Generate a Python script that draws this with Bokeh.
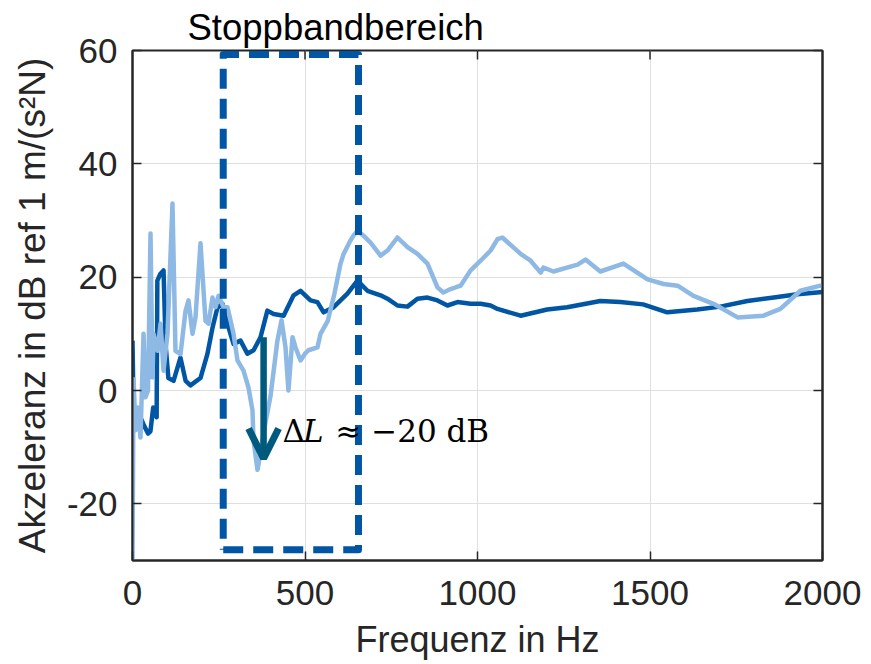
from bokeh.plotting import figure
from bokeh.models import (LinearAxis, FixedTicker, Label, Arrow, OpenHead,
                          CustomJSTickFormatter, Range1d)
from bokeh.embed import file_html
from bokeh.resources import INLINE

# ---------------- data ----------------
freq_dark = [0, 3, 15, 25, 32, 45, 52, 60, 70, 72, 80, 90, 96, 104, 119, 139, 154,
             168, 197, 217, 232, 246, 261, 275, 293, 313, 333, 351, 371, 391, 409,
             438, 467, 487, 516, 536, 554, 583, 623, 652, 681, 719, 739, 768, 797,
             826, 855, 884, 913, 942, 980, 1009, 1038, 1058, 1125, 1202, 1260, 1356,
             1414, 1480, 1550, 1637, 1704, 1782, 1859, 1927, 2000]
level_dark = [8.8, -3, -6, -5, -6, -7.6, -7.2, -3, -4.7, 19.4, 20.5, 21.2, 8, 2.2, 1.7,
              5.8, 1.7, 0.9, 2.2, 6.4, 11.1, 14.6, 15.3, 11.8, 8.2, 8.8, 6.5, 7.1, 9.4,
              14.1, 13.5, 13.2, 16.8, 17.6, 15.9, 15.6, 13.8, 14.7, 17.1, 19.4, 17.6,
              16.8, 16.2, 15.0, 14.8, 16.2, 16.4, 15.9, 15.0, 15.6, 15.3, 15.3, 15.0,
              14.4, 13.2, 14.3, 14.7, 15.8, 15.6, 15.2, 13.8, 14.3, 14.8, 15.8, 16.4,
              17.0, 17.4]

freq_light = [0, 3, 8.7, 14.5, 23.2, 31.9, 37.7, 45, 52.2, 58, 60.9, 72.5, 81.2, 89.9,
              101.4, 115.9, 124.6, 139.1, 153.6, 162.3, 173.9, 182.6, 197.1, 211.6,
              220.3, 231.9, 240.6, 249.3, 263.8, 275.4, 292.8, 304.3, 321.7, 336.2,
              347.8, 350.7, 362.3, 371, 379.7, 400, 420, 432, 443.5, 452, 463.8, 472.5,
              487, 500, 510, 536, 545, 566, 585, 603, 612, 632, 640, 652, 670, 690, 719,
              739, 768, 797, 826, 855, 884, 901, 922, 951, 980, 1009, 1038, 1058, 1072,
              1125, 1154, 1183, 1191, 1220, 1290, 1313, 1356, 1423, 1493, 1539, 1580,
              1626, 1684, 1754, 1829, 1878, 1936, 1994, 2000]
level_light = [-30, 2, -7, -3, -8.3, 10, -1.2, 0, 27.7, 2.3, 10, 7, 11.8, 3.5, 10, 33,
               7, 6.4, 14, 15.9, 10, 12.9, 26, 12.3, 11.8, 16.4, 14.7, 16.7, 14.7, 14.7,
               10, 5.3, 3.5, 0.5, -3.5, -8.8, -14, -11, -7.5, -1, 8.8, 12.4, 7.6, 0,
               9.4, 7.6, 5.3, 6.5, 7.1, 7.6, 10, 12.3, 17, 22.4, 24.1, 26.5, 27.3, 28.2,
               27.3, 26.1, 23.8, 24.7, 27.0, 25.3, 24.1, 22.4, 18.2, 17.3, 17.9, 18.5,
               21.2, 22.9, 24.7, 26.7, 27.0, 24.1, 22.9, 20.8, 21.7, 21.0, 22.2, 23.1,
               21.0, 22.4, 19.6, 18.8, 18.5, 16.7, 15.3, 12.9, 13.2, 14.4, 17.6, 18.5,
               18.5]

x_ticks = [0, 500, 1000, 1500, 2000]
y_ticks = [-20, 0, 20, 40, 60]
x_range = (0, 2000)
y_range = (-30, 60)

# stop band box and annotation anchors (data units)
box_f = [263, 655, 655, 263, 263]
box_l = [-28.1, -28.1, 59.3, 59.3, -28.1]
arrow_f = 380
arrow_top, arrow_tip = 9.4, -12.0

DARK = "#0056A4"
LIGHT = "#8EB9E4"
TEAL = "#005A7D"
AX = "#262626"

FW, FH = 690, 510
p = figure(frame_width=FW, frame_height=FH, x_range=Range1d(*x_range),
           y_range=Range1d(*y_range), output_backend="svg", toolbar_location=None,
           min_border_left=132, min_border_right=49, min_border_top=50,
           min_border_bottom=104, background_fill_color="white",
           border_fill_color="white")

p.outline_line_color = AX
p.outline_line_width = 2

# title
p.title.text = "Stoppbandbereich"
p.title.align = "left"
p.title.offset = 55
p.title.text_font = "Liberation Sans"
p.title.text_font_size = "36.5px"
p.title.text_font_style = "normal"
p.title.text_color = "black"
p.title.standoff = 5

for ax in (p.xaxis[0], p.yaxis[0]):
    ax.axis_line_color = AX
    ax.axis_line_width = 2
    ax.major_tick_line_color = AX
    ax.major_tick_line_width = 1.5
    ax.major_tick_in = 9
    ax.major_tick_out = 0
    ax.minor_tick_line_color = None
    ax.major_label_text_font = "Liberation Sans"
    ax.major_label_text_font_size = "35px"
    ax.major_label_text_color = AX
    ax.axis_label_text_font = "Liberation Sans"
    ax.axis_label_text_font_style = "normal"
    ax.axis_label_text_color = AX

p.xaxis.ticker = FixedTicker(ticks=x_ticks)
p.yaxis.ticker = FixedTicker(ticks=y_ticks)
p.yaxis.major_label_overrides = {t: str(t) for t in y_ticks}
p.xaxis.major_label_standoff = 20
p.yaxis.major_label_standoff = 15
p.xaxis.axis_label = "Frequenz in Hz"
p.xaxis.axis_label_text_font_size = "36px"
p.xaxis.axis_label_standoff = 11
p.yaxis.axis_label = "Akzeleranz in dB ref 1 m/(s²N)"
p.yaxis.axis_label_text_font_size = "37px"
p.yaxis.axis_label_standoff = 11

# box axis on the right (ticks only)
empty = CustomJSTickFormatter(code="return ''")
right = LinearAxis(ticker=FixedTicker(ticks=y_ticks), formatter=empty)
right.axis_line_color = AX
right.axis_line_width = 2
right.major_tick_line_color = AX
right.major_tick_line_width = 1.5
right.major_tick_in = 9
right.major_tick_out = 0
right.minor_tick_line_color = None
right.major_label_text_font_size = "1px"
right.major_label_standoff = 0
p.add_layout(right, "right")

# inward ticks on the top edge of the box
tick_len = 9 * (y_range[1] - y_range[0]) / FH
inner_x = x_ticks[1:-1]
p.segment(x0=inner_x, y0=[y_range[1]] * len(inner_x), x1=inner_x,
          y1=[y_range[1] - tick_len] * len(inner_x), line_color=AX, line_width=1.5)

p.xgrid.ticker = FixedTicker(ticks=x_ticks)
p.ygrid.ticker = FixedTicker(ticks=y_ticks)
p.grid.grid_line_color = "#DFDFDF"
p.grid.grid_line_width = 1

# curves
p.line(freq_dark, level_dark, line_color=DARK, line_width=4.5, line_join="round")
p.line(freq_light, level_light, line_color=LIGHT, line_width=4.5, line_join="round")

# stop band box
p.line(box_f, box_l, line_color=DARK, line_width=7, line_dash="20 10",
       line_join="round")

# arrow
p.add_layout(Arrow(x_start=arrow_f, y_start=arrow_top, x_end=arrow_f, y_end=arrow_tip,
                   line_color=TEAL, line_width=6.5,
                   end=OpenHead(size=30, line_color=TEAL, line_width=7)))

# delta-L annotation
p.add_layout(Label(x=435, y=-7.1, text="Δ", text_font="DejaVu Serif",
                   text_font_size="31px", text_color="black",
                   text_baseline="alphabetic"))
p.add_layout(Label(x=494, y=-7.1, text="L", text_font="DejaVu Serif",
                   text_font_style="italic", text_font_size="31px",
                   text_color="black", text_baseline="alphabetic"))
p.add_layout(Label(x=588, y=-7.1, text="≈ −20 dB", text_font="DejaVu Serif",
                   text_font_size="31px", text_color="black",
                   text_baseline="alphabetic"))

open("out.html", "w").write(file_html(p, INLINE))
